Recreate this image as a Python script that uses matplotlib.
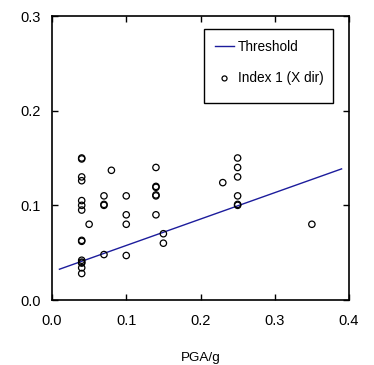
import matplotlib
matplotlib.use("Agg")
import matplotlib.pyplot as plt
from matplotlib.patches import Rectangle

plt.rcParams['font.family'] = ['Liberation Sans', 'DejaVu Sans']

# Index 1 (X dir) data points
pga = [0.04, 0.04, 0.04, 0.04, 0.04, 0.04, 0.04, 0.04, 0.04, 0.04, 0.04, 0.04, 0.04, 0.04,
       0.05, 0.08,
       0.07, 0.07, 0.07, 0.07,
       0.10, 0.10, 0.10, 0.10,
       0.14, 0.14, 0.14, 0.14, 0.14, 0.14,
       0.15, 0.15,
       0.23,
       0.25, 0.25, 0.25, 0.25, 0.25, 0.25,
       0.35]
index1 = [0.150, 0.149, 0.130, 0.126, 0.105, 0.100, 0.095, 0.062, 0.063, 0.042, 0.040, 0.039, 0.034, 0.028,
          0.080, 0.137,
          0.110, 0.100, 0.101, 0.048,
          0.110, 0.090, 0.080, 0.047,
          0.140, 0.120, 0.119, 0.110, 0.111, 0.090,
          0.070, 0.060,
          0.124,
          0.150, 0.140, 0.130, 0.110, 0.100, 0.101,
          0.080]

# Threshold line endpoints
thr_x = [0.01, 0.39]
thr_y = [0.0325, 0.1385]

W, H = 374, 365
fig = plt.figure(figsize=(W / 100, H / 100), dpi=100)
ax = fig.add_axes([52 / W, 1 - 300 / H, 297 / W, 284 / H])

ax.plot(thr_x, thr_y, color='#1c1c9c', lw=1.0, label='Threshold')
sc = ax.scatter(pga, index1, s=21, facecolors='none', edgecolors='black', linewidths=0.9,
                label='Index 1 (X dir)', zorder=3)

ax.set_xlim(0, 0.4)
ax.set_ylim(0, 0.3)
ax.set_xticks([0.0, 0.1, 0.2, 0.3, 0.4])
ax.set_yticks([0.0, 0.1, 0.2, 0.3])
ax.set_xticklabels(['0.0', '0.1', '0.2', '0.3', '0.4'])
ax.set_yticklabels(['0.0', '0.1', '0.2', '0.3'])
ax.tick_params(direction='in', length=4, width=1, top=True, right=True, labelsize=10.5)
ax.tick_params(axis='x', pad=10)
ax.tick_params(axis='y', pad=8)
for sp in ax.spines.values():
    sp.set_linewidth(1.2)

ax.set_xlabel('PGA/g', fontsize=9.7, labelpad=17)

# legend frame
ax.add_patch(Rectangle((204 / W, 1 - 103 / H), 129 / W, 74 / H,
                       transform=fig.transFigure, facecolor='white',
                       edgecolor='black', lw=1.0, zorder=4, clip_on=False))
leg = ax.legend(loc='upper left', bbox_to_anchor=(215 / W, 1 - 40 / H),
                bbox_transform=fig.transFigure, fontsize=9.8, frameon=False,
                handlelength=1.4, handletextpad=0.3, borderpad=0.0,
                labelspacing=1.25, scatterpoints=1, borderaxespad=0)
leg.set_zorder(6)
leg.legend_handles[1].set_sizes([13])

fig.savefig('out.png', dpi=100)
